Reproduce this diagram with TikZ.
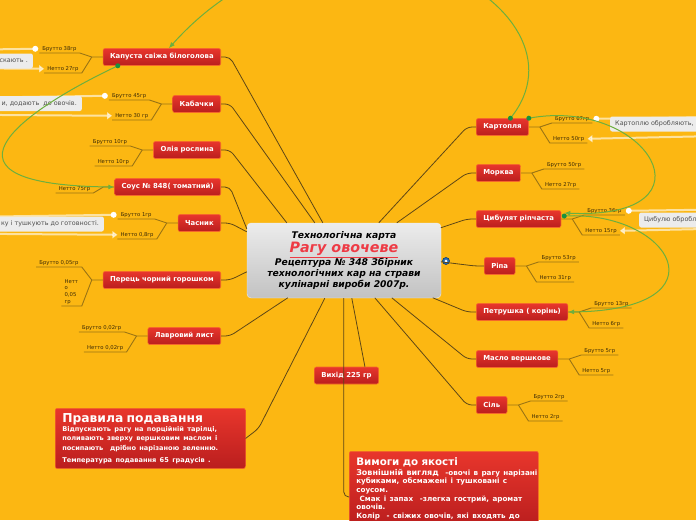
\documentclass[tikz,border=0pt]{standalone}
\usepackage{fontspec}
\setmainfont{DejaVu Sans}
\usetikzlibrary{arrows.meta,positioning,calc,shapes.geometric}
\definecolor{bgamber}{HTML}{FCB712}
\definecolor{redtop}{HTML}{E8362C}
\definecolor{redbot}{HTML}{BA1E1E}
\definecolor{redrim}{HTML}{F5672A}
\definecolor{twig}{HTML}{5E4716}
\definecolor{leafline}{HTML}{9A7414}
\definecolor{leaftext}{HTML}{3B2A06}
\definecolor{notegray}{HTML}{ECECEC}
\definecolor{notetext}{HTML}{505050}
\definecolor{relgreen}{HTML}{6DAF3E}
\definecolor{dotgreen}{HTML}{17923F}
\definecolor{titlered}{HTML}{EE3B45}
\definecolor{ctrtop}{HTML}{ECECEC}
\definecolor{ctrbot}{HTML}{C2C2C2}
\definecolor{foldblue}{HTML}{2A6DB5}
\definecolor{foldrim}{HTML}{0E3D72}
\tikzset{
  topic/.style={draw=redrim,line width=0.6pt,rounded corners=2pt,top color=redtop,bottom color=redbot,
                text=white,font=\bfseries\fontsize{6.9}{8}\selectfont,minimum height=17pt,inner xsep=7pt,inner ysep=2pt},
  ctrbox/.style={rounded corners=4pt,top color=ctrtop,bottom color=ctrbot,draw=ctrtop,align=center,
                 minimum width=194pt,minimum height=75pt,inner sep=2pt,font=\bfseries\itshape\fontsize{9.2}{11}\selectfont},
  bigbox/.style={rounded corners=2pt,top color=redtop,bottom color=redbot,draw=redrim,line width=0.6pt,
                 text=white,align=left,anchor=north west,inner xsep=7pt,inner ysep=5pt,font=\bfseries},
  leaf/.style={text=leaftext,font=\fontsize{5.3}{6}\selectfont,inner xsep=3pt,inner ysep=1.5pt},
  twigln/.style={draw=twig,line width=0.8pt,rounded corners=5pt},
  leafln/.style={draw=leafline,line width=0.9pt},
  note/.style={fill=notegray,rounded corners=2pt,text=notetext,font=\fontsize{6.4}{8}\selectfont,
               minimum height=15pt,inner xsep=5pt},
  rel/.style={white,opacity=0.6,line width=2pt},
  wdot/.style={circle,fill=white,inner sep=0pt,minimum size=6pt},
  grel/.style={relgreen,line width=1pt,-{Latex[length=6pt,width=5pt]}},
  gdot/.style={circle,fill=dotgreen,inner sep=0pt,minimum size=5pt},
}
\begin{document}
\begin{tikzpicture}[x=1pt,y=-1pt]
  \useasboundingbox (0,0) rectangle (696,520);
  \clip (0,0) rectangle (696,520);
  \fill[bgamber] (0,0) rectangle (696,520);

  % centre
  \node[ctrbox] (ctr) at (344,260.5) {Технологічна карта\\[1pt]
    {\fontsize{14.3}{15}\selectfont\color{titlered}\underline{Рагу овочеве}}\\
    Рецептура № 348 Збірник\\ технологічних кар на страви\\ кулінарні вироби 2007р.};
  \node[circle,fill=foldblue,draw=foldrim,line width=0.6pt,minimum size=7pt,inner sep=0pt] (fold) at (446,261) {};
  \fill[white] (fold.center) circle (1.5);

  % left topics
  \foreach \n/\lbl/\y/\dx/\dy in {kap/{Капуста свіжа білоголова}/57/76/0, kab/Кабачки/104/68/0,
      oli/{Олія рослина}/150/40/0, sous/{Соус № 848( томатний)}/187/0/6, chas/Часник/223/0/9,
      pep/{Перець чорний горошком}/280/0/49, lavr/{Лавровий лист}/336/41/75}{
    \node[topic,anchor=east] (\n) at (221,\y) {\lbl};
    \draw[twigln] (\n.east) -- ++(9,0) -- ($(ctr.north west)+(\dx,\dy)$);
  }
  % right topics
  \foreach \n/\lbl/\x/\y/\dx/\dy in {kart/Картопля/476/127/132/0, mork/Морква/476/173/150/0,
      tsyb/{Цибулят ріпчаста}/476/219/194/5, ripa/Ріпа/484/266/194/39, petr/{Петрушка ( корінь)}/476/312/186/75,
      maslo/{Масло вершкове}/476/359/145/75, sil/Сіль/476/405/128/75}{
    \node[topic,anchor=west] (\n) at (\x,\y) {\lbl};
    \draw[twigln] (\n.west) -- ++(-9,0) -- ($(ctr.north west)+(\dx,\dy)$);
  }

  % leaves
  \foreach \n/\up/\dn in {kap/{Брутто 38гр}/{Нетто 27гр}, kab/{Брутто 45гр}/{Нетто 30 гр},
      oli/{Брутто 10гр}/{Нетто 10гр}, chas/{Брутто 1гр}/{Нетто 0,8гр}, lavr/{Брутто 0,02гр}/{Нетто 0,02гр}}{
    \coordinate (\n-f) at ($(\n.west)+(-11,0)$);
    \node[leaf,anchor=south east] (\n-u) at ($(\n-f)+(-12,-4)$) {\up};
    \node[leaf,anchor=south east] (\n-d) at ($(\n-f)+(-10,16)$) {\dn};
    \draw[leafln] (\n.west) -- (\n-f) -- (\n-u.south east) -- (\n-u.south west);
    \draw[leafln] (\n-f) -- (\n-d.south east) -- (\n-d.south west);
  }
  \foreach \n/\up/\dn in {kart/{Брутто 67гр}/{Нетто 50гр}, mork/{Брутто 50гр}/{Нетто 27гр},
      tsyb/{Брутто 36гр}/{Нетто 15гр}, ripa/{Брутто 53гр}/{Нетто 31гр}, petr/{Брутто 13гр}/{Нетто 6гр},
      maslo/{Брутто 5гр}/{Нетто 5гр}, sil/{Брутто 2гр}/{Нетто 2гр}}{
    \coordinate (\n-f) at ($(\n.east)+(11,0)$);
    \node[leaf,anchor=south west] (\n-u) at ($(\n-f)+(12,-4)$) {\up};
    \node[leaf,anchor=south west] (\n-d) at ($(\n-f)+(10,16)$) {\dn};
    \draw[leafln] (\n.east) -- (\n-f) -- (\n-u.south west) -- (\n-u.south east);
    \draw[leafln] (\n-f) -- (\n-d.south west) -- (\n-d.south east);
  }
  \coordinate (sous-f) at ($(sous.west)+(-11,0)$);
  \node[leaf,anchor=south east] (sous-d) at ($(sous-f)+(-10,6)$) {Нетто 75гр};
  \draw[leafln] (sous.west) -- (sous-f) -- (sous-d.south east) -- (sous-d.south west);
  \coordinate (pep-f) at ($(pep.west)+(-11,0)$);
  \node[leaf,anchor=south east] (pep-u) at ($(pep-f)+(-10,-13)$) {Брутто 0,05гр};
  \node[leaf,anchor=south east,align=left,text width=14pt,font=\fontsize{5.3}{6.7}\selectfont]
    (pep-d) at ($(pep-f)+(-10,26)$) {Нетт\\о\\0,05\\гр};
  \draw[leafln] (pep.west) -- (pep-f) -- (pep-u.south east) -- (pep-u.south west);
  \draw[leafln] (pep-f) -- (pep-d.south east) -- (pep-d.south west);

  % notes
  \foreach \n in {kap,kab,chas}{
    \draw[rel] ($(\n-u.west)+(-4,0)$) -- ++(-140,2);
    \draw[rel,-{Triangle[width=7pt,length=5pt]}] ($(\n-d.west)+(-140,-1)$) -- (\n-d.west);
    \node[wdot] (\n-c) at ($(\n-u.west)+(-4,0)$) {};
  }
  \foreach \n in {kart,tsyb}{
    \draw[rel] ($(\n-u.east)+(4,0)$) -- ++(140,-2);
    \draw[rel,-{Triangle[width=7pt,length=5pt]}] ($(\n-d.east)+(140,-3)$) -- (\n-d.east);
    \node[wdot] (\n-c) at ($(\n-u.east)+(4,0)$) {};
  }
  \node[note,anchor=east] (nkap) at (33,61) {\hspace*{40pt}скають .};
  \node[note,anchor=east] (nkab) at (82,103.5) {\hspace*{30pt}и, додають\ \ до овочів.};
  \node[note,anchor=east] (nchas) at (104,224) {\hspace*{30pt}ку і тушкують до готовності.};
  \node[note,anchor=west] (nkart) at (610,124) {Картоплю обробляють,\hspace*{30pt}};
  \node[note,anchor=west] (ntsyb) at (639,220) {Цибулю обробляють,\hspace*{30pt}};

  % bottom
  \node[topic] (vyh) at (346.5,375.5) {Вихід 225 гр};
  \draw[twigln] ($(ctr.south west)+(105,0)$) -- ($(vyh.north east)+(-14,0)$);
  \node[bigbox,text width=176pt] (prav) at (55,408) {\fontsize{12.3}{14}\selectfont Правила подавання\par
    \fontsize{6.6}{9.3}\selectfont Відпускають рагу на порційній тарілці,\\ поливають зверху вершковим маслом і\\
    посипають\ \ дрібно нарізаною зеленню.\\ Температура подавання 65 градусів .};
  \draw[twigln] ($(ctr.south west)+(78,0)$) -- ($(prav.east)+(13,-10)$) -- (prav.east);
  \node[bigbox,text width=175pt,inner ysep=6pt] (vym) at (349,451) {\fontsize{10.3}{12}\selectfont Вимоги до якості\par
    \vspace*{1.5pt}\fontsize{7.2}{8.6}\selectfont\mbox{{\fontsize{8}{8.6}\selectfont Зовнішній вигляд}\ \ -овочі в рагу нарізані}\\
    кубиками, обсмажені і тушковані с\\ соусом.\\ \ Смак і запах\ \ -злегка гострий, аромат\\ овочів.\\
    Колір\ \ - свіжих овочів, які входять до\\[6pt]};
  \draw[twigln] ($(ctr.south west)+(97,0)$) |- ($(vym.north west)+(0,46)$);

  % relations
  \draw[grel] ($(kart.north)+(8,0)$) .. controls +(90,-110) and +(170,-190) .. ($(kap.north)+(7,0)$);
  \node[gdot] (g1) at ($(kart.north)+(8,0)$) {};
  \draw[grel] ($(kap.south west)+(15,0)$) .. controls +(-102,48) and +(-191,-2) .. (sous.west);
  \node[gdot] (g2) at ($(kap.south west)+(15,0)$) {};
  \draw[grel] (kart.north east) .. controls +(119,-22) and +(157,7) .. ($(tsyb.east)+(3,-6)$);
  \node[gdot] (g3) at (kart.north east) {};
  \draw[grel] ($(tsyb.east)+(3,-3)$) .. controls +(107,-6) and +(161,-2) .. (petr.east);
  \node[gdot] (g4) at ($(tsyb.east)+(3,-3)$) {};
\end{tikzpicture}
\end{document}
